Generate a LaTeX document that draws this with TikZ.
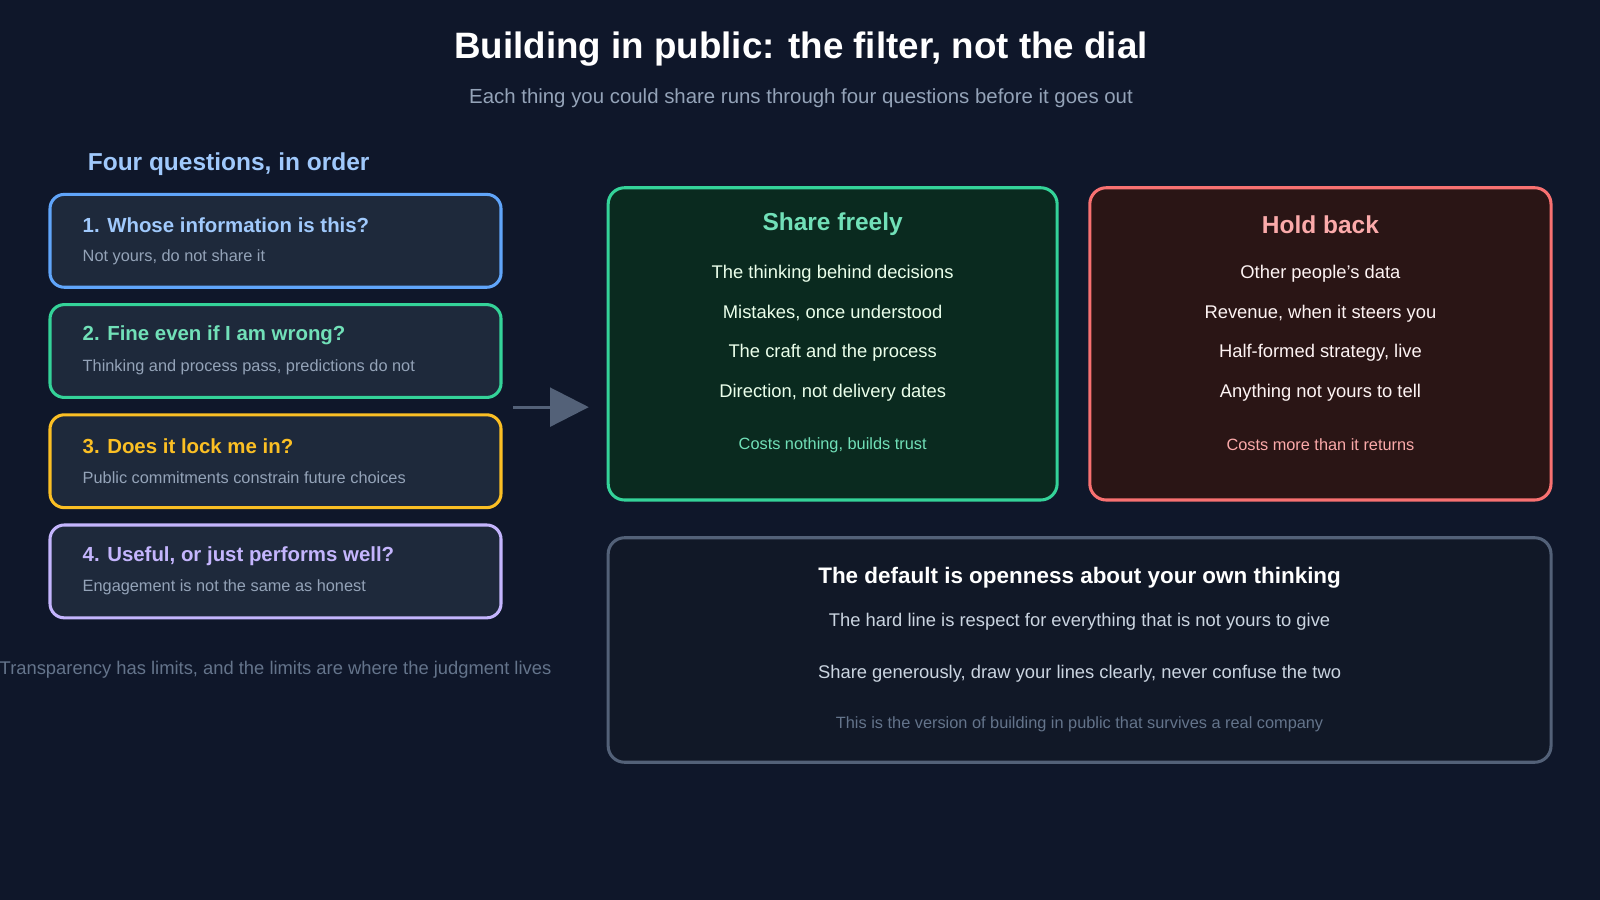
\documentclass[tikz,border=0pt]{standalone}
\usepackage{fontspec}
\setmainfont{Liberation Sans}
\usetikzlibrary{arrows.meta, positioning}
\definecolor{bg}{HTML}{0F172A}
\definecolor{card}{HTML}{1E293B}
\definecolor{muted}{HTML}{94A3B8}
\definecolor{dim}{HTML}{64748B}
\definecolor{qblue}{HTML}{60A5FA}
\definecolor{qgreen}{HTML}{34D399}
\definecolor{qyellow}{HTML}{FBBF24}
\definecolor{qpurple}{HTML}{C4B5FD}
\definecolor{red}{HTML}{F87171}
\definecolor{sharefill}{HTML}{0A2A1F}
\definecolor{holdfill}{HTML}{2A1515}
\definecolor{defaultfill}{HTML}{111827}
\definecolor{lighttext}{HTML}{CBD5E1}

\begin{document}
\begin{tikzpicture}[x=0.5pt, y=-0.5pt]
            \tikzstyle{question} = [rectangle, draw, line width=1.5pt, fill=card, rounded corners=7pt, minimum width=221pt, minimum height=45.5pt]
            \tikzstyle{qtitle} = [anchor=west, font=\fontsize{10}{12}\selectfont\bfseries]
            \tikzstyle{qsub} = [anchor=west, text=muted, font=\fontsize{8}{10}\selectfont]
            \tikzstyle{panel} = [rectangle, draw, line width=1.5pt, rounded corners=8pt]
            \tikzstyle{item} = [font=\fontsize{9}{11}\selectfont]
            \tikzstyle{line} = [draw, -{Triangle[length=19pt,width=19pt]}, line width=1.5pt, color=dim!80!bg]

            \fill[bg] (0,0) rectangle (1568,882);
            \useasboundingbox (0,0) rectangle (1568,882);

            \node [text=white, font=\fontsize{18}{22}\selectfont\bfseries] (title) at (785,48) {Building in public: the filter, not the dial};
            \node [text=muted, font=\fontsize{10}{12}\selectfont] (subtitle) at (785,96) {Each thing you could share runs through four questions before it goes out};

            % questions
            \node [anchor=west, text=qblue!60!white, font=\fontsize{12}{14}\selectfont\bfseries] (qhead) at (79,161) {Four questions, in order};
            \node [question, draw=qblue] (q1) at (270,236) {};
            \node [question, draw=qgreen] (q2) at (270,344) {};
            \node [question, draw=qyellow] (q3) at (270,452) {};
            \node [question, draw=qpurple] (q4) at (270,560) {};
            \node [qtitle, text=qblue!60!white] at (74,221) {1. Whose information is this?};
            \node [qsub] at (74,252) {Not yours, do not share it};
            \node [qtitle, text=qgreen!70!white] at (74,329) {2. Fine even if I am wrong?};
            \node [qsub] at (74,360) {Thinking and process pass, predictions do not};
            \node [qtitle, text=qyellow] at (74,437) {3. Does it lock me in?};
            \node [qsub] at (74,468) {Public commitments constrain future choices};
            \node [qtitle, text=qpurple] at (74,545) {4. Useful, or just performs well?};
            \node [qsub] at (74,576) {Engagement is not the same as honest};
            \node [text=dim, font=\fontsize{9}{11}\selectfont] (limits) at (270,656) {Transparency has limits, and the limits are where the judgment lives};

            % arrow
            \coordinate (from) at (503,399);
            \coordinate (to) at (577,399);
            \path [line] (from) -- (to);

            % share freely
            \node [panel, draw=qgreen, fill=sharefill, minimum width=220pt, minimum height=153pt] (share) at (816,337) {};
            \node [text=qgreen!70!white, font=\fontsize{12}{14}\selectfont\bfseries] at (816,220) {Share freely};
            \foreach \t [count=\i] in {The thinking behind decisions, {Mistakes, once understood}, The craft and the process, {Direction, not delivery dates}}
                \node [item, text=green!8!white] at (816,229+39*\i) {\t};
            \node [text=qgreen!70!white, font=\fontsize{8}{10}\selectfont] at (816,436) {Costs nothing, builds trust};

            % hold back
            \node [panel, draw=red, fill=holdfill, minimum width=226pt, minimum height=153pt] (hold) at (1294,337) {};
            \node [text=red!60!white, font=\fontsize{12}{14}\selectfont\bfseries] at (1294,220) {Hold back};
            \foreach \t [count=\i] in {Other people's data, {Revenue, when it steers you}, {Half-formed strategy, live}, Anything not yours to tell}
                \node [item, text=red!8!white] at (1294,229+39*\i) {\t};
            \node [text=red!60!white, font=\fontsize{8}{10}\selectfont] at (1294,436) {Costs more than it returns};

            % default
            \node [panel, draw=dim!80!bg, fill=defaultfill, minimum width=462pt, minimum height=110pt] (default) at (1058,637) {};
            \node [text=white, font=\fontsize{11}{13}\selectfont\bfseries] at (1058,566) {The default is openness about your own thinking};
            \node [item, text=lighttext] at (1058,609) {The hard line is respect for everything that is not yours to give};
            \node [item, text=lighttext] at (1058,660) {Share generously, draw your lines clearly, never confuse the two};
            \node [text=dim, font=\fontsize{8}{10}\selectfont] at (1058,710) {This is the version of building in public that survives a real company};
        \end{tikzpicture}
\end{document}
